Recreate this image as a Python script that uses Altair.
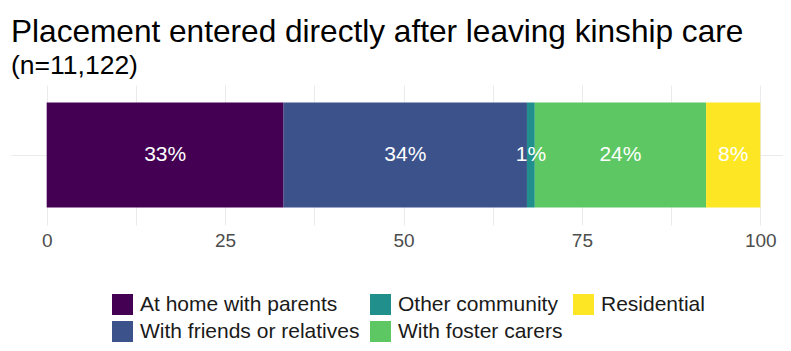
import altair as alt
import pandas as pd

# ---- data ----
categories = ["At home with parents", "With friends or relatives", "Other community",
              "With foster carers", "Residential"]
shares = [33.2, 34.1, 1.1, 24.0, 7.6]
stack_order = [1, 2, 3, 4, 5]
colors = ["#440154", "#3B528B", "#21908C", "#5DC863", "#FDE725"]
tick_values = [0, 12.5, 25, 37.5, 50, 62.5, 75, 87.5, 100]

df = pd.DataFrame({"placement": categories, "share": shares,
                   "order": stack_order, "row": ["all"] * len(categories)})

FONT = "Liberation Sans"

base = alt.Chart(df).transform_stack(
    stack="share", groupby=["row"], as_=["x0", "x1"],
    sort=[alt.SortField("order", order="ascending")]
).transform_calculate(
    mid="(datum.x0 + datum.x1) / 2",
    label="format(datum.share, '.0f') + '%'"
)

x_scale = alt.Scale(domain=[-5, 105], range=[0, 785], nice=False, zero=False)
y_enc = alt.Y("row:N", title=None,
              scale=alt.Scale(paddingInner=0.1, paddingOuter=0.15),
              axis=alt.Axis(labels=False, ticks=False, domain=False, grid=True,
                            gridColor="#EBEBEB", gridWidth=1, bandPosition=0.5))

bars = base.mark_bar().encode(
    x=alt.X("x0:Q", scale=x_scale, title=None,
            axis=alt.Axis(values=tick_values,
                          labelExpr="datum.value % 25 === 0 ? datum.label : ''",
                          grid=True, gridColor="#EBEBEB", gridWidth=1,
                          domain=False, ticks=False, labelFontSize=19,
                          labelColor="#4D4D4D", labelFont=FONT, labelPadding=6)),
    x2="x1:Q",
    y=y_enc,
    color=alt.Color("placement:N", title=None,
                    scale=alt.Scale(domain=categories, range=colors),
                    legend=alt.Legend(orient="none", legendX=101, legendY=209,
                                      columns=3, direction="vertical",
                                      columnPadding=10, rowPadding=5,
                                      symbolType="square", symbolSize=441,
                                      symbolStrokeWidth=0, labelFontSize=21,
                                      labelFont=FONT, labelColor="#1A1A1A",
                                      labelOffset=7, labelLimit=400, padding=0)),
)

texts = base.mark_text(color="white", fontSize=21, font=FONT).encode(
    x=alt.X("mid:Q", scale=x_scale),
    y=alt.Y("row:N"),
    text="label:N",
)

chart = alt.layer(bars, texts).properties(
    width=772, height=140,
    background="white",
    autosize=alt.AutoSizeParams(type="none"),
    padding={"left": 3, "top": 77, "right": 0, "bottom": 118},
    title=alt.TitleParams(
        text="Placement entered directly after leaving kinship care",
        subtitle="(n=11,122)", anchor="start", frame="group",
        font=FONT, fontSize=31.6, fontWeight="normal", color="black",
        subtitleFont=FONT, subtitleFontSize=26.5, subtitleColor="black",
        subtitlePadding=4, offset=6),
).configure_view(strokeWidth=0, stroke="transparent")

chart.save("out.html", embed_options={"renderer": "svg", "actions": False})
